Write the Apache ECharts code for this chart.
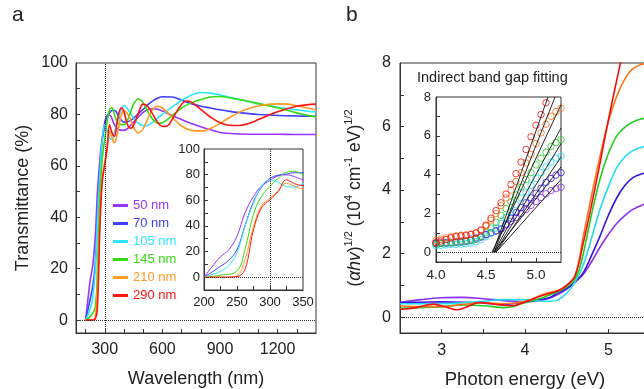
<!DOCTYPE html>
<html>
<head>
<meta charset="utf-8">
<script src="https://cdn.jsdelivr.net/npm/echarts@6.0.0/dist/echarts.min.js"></script>
<style>
  html, body { margin: 0; padding: 0; background: #fff; }
  #chart { width: 644px; height: 389px; }
</style>
</head>
<body>
<div id="chart"></div>
<script>
// ---- panel a: transmittance (wavelength nm, T %) ----
const names = ['50 nm', '70 nm', '105 nm', '145 nm', '210 nm', '290 nm']
const colorsA = ['#9933ff', '#3f3fff', '#2ee6ff', '#33dd11', '#ff9a22', '#ff1414']
const colorsB = ['#8c2ff0', '#3a14e0', '#22dcee', '#22cc22', '#ff7418', '#f01010']

const t50 = [[200, 0], [212, 8], [225, 16], [237, 21], [250, 32], [262, 50], [275, 63], [287, 71], [300, 75.5], [312, 79], [325, 79.8], [337, 78.5], [350, 76], [375, 74], [400, 73.8], [425, 75], [450, 77], [475, 79], [500, 80.8], [525, 81.8], [550, 82.2], [575, 82], [600, 81.3], [650, 79.6], [700, 78], [750, 76.5], [800, 75.2], [850, 74], [900, 73], [950, 72.6], [1000, 72.4], [1100, 72.3], [1200, 72.3], [1300, 72.2], [1400, 72.2]]
const t70 = [[200, 0], [212, 4], [225, 8.5], [237, 13], [250, 21.5], [262, 40], [275, 59], [287, 70], [300, 77], [312, 79.5], [325, 80.5], [337, 81.5], [350, 81.5], [375, 79], [400, 77], [425, 77.3], [450, 78.5], [475, 80.3], [500, 82], [525, 83.8], [550, 85.3], [575, 86.3], [600, 86.9], [650, 86.8], [700, 85.5], [750, 84.2], [800, 83.2], [850, 82.5], [900, 81.8], [950, 81.2], [1000, 80.7], [1050, 80.3], [1100, 80], [1200, 79.6], [1300, 79.4], [1400, 79.3]]
const t105 = [[200, 0], [212, 2], [225, 4.7], [237, 8.6], [250, 19], [262, 39.7], [275, 57.8], [287, 70.7], [300, 76], [312, 74], [325, 70.7], [337, 70.3], [350, 73], [375, 79.5], [400, 83.5], [425, 81.5], [450, 78.5], [475, 76.5], [500, 75.6], [525, 75.8], [550, 77], [575, 78.5], [600, 80], [650, 82.8], [700, 85.5], [750, 87.5], [800, 88.5], [850, 88.3], [900, 87.5], [950, 86.7], [1000, 85.8], [1050, 85], [1100, 84.2], [1150, 83.5], [1200, 82.8], [1250, 82.3], [1300, 81.8], [1350, 81.3], [1400, 81]]
const t145 = [[200, 0], [225, 1.5], [250, 5], [262, 21.5], [275, 49], [287, 63], [300, 70.7], [312, 77], [325, 81.9], [337, 82.6], [350, 80], [362, 77.5], [375, 76.3], [400, 76], [425, 79], [450, 84], [475, 86], [500, 84.5], [525, 81], [550, 78], [575, 76.6], [600, 76.8], [650, 79.5], [700, 82.5], [750, 84.5], [800, 85.8], [850, 86.8], [900, 87], [950, 86.5], [1000, 85.8], [1050, 85], [1100, 84.2], [1150, 83.4], [1200, 82.6], [1250, 81.6], [1300, 80.6], [1350, 79.8], [1400, 79]]
const t210 = [[200, 0], [237, 0], [250, 1], [262, 13.7], [275, 39.7], [287, 55.5], [300, 61.7], [312, 67], [325, 73.3], [337, 71], [350, 69], [362, 71.5], [375, 76], [387, 80], [400, 81.5], [425, 79.5], [450, 75], [475, 72.8], [500, 74.5], [525, 78.5], [550, 82], [575, 83.2], [600, 82.5], [650, 79], [700, 75.5], [750, 73.8], [800, 73.5], [850, 74.5], [900, 76.5], [950, 78.8], [1000, 80.8], [1050, 82.3], [1100, 83.3], [1150, 83.9], [1200, 84.1], [1250, 84], [1300, 83.4], [1350, 82.6], [1400, 81.7]]
const t290 = [[200, 0], [225, 0], [250, 0.5], [262, 6], [275, 37], [287, 54], [300, 60.4], [312, 66.8], [325, 76], [337, 73], [350, 71.5], [362, 76], [375, 81], [387, 82.6], [400, 81], [412, 77.5], [425, 75], [437, 74.6], [450, 75.8], [475, 80.5], [500, 84], [525, 83], [550, 80], [575, 77], [600, 75.3], [625, 75.5], [650, 78], [700, 84], [725, 85.2], [750, 84.8], [800, 82], [850, 79], [900, 76.8], [950, 75.8], [1000, 75.7], [1050, 76.5], [1100, 78], [1150, 79.6], [1200, 81], [1250, 82.2], [1300, 83.2], [1350, 83.7], [1400, 84]]
const transData = [t50, t70, t105, t145, t210, t290]

// ---- panel b: (alpha h v)^1/2 vs photon energy ----
const b50 = [[2.5, 0.46], [2.75, 0.55], [3.0, 0.61], [3.25, 0.62], [3.5, 0.58], [3.75, 0.52], [4.0, 0.48], [4.2, 0.54], [4.3, 0.6], [4.4, 0.72], [4.5, 0.88], [4.6, 1.1], [4.7, 1.35], [4.8, 1.75], [4.9, 2.2], [5.0, 2.6], [5.1, 2.95], [5.2, 3.2], [5.3, 3.4], [5.43, 3.55], [5.5, 3.62]]
const b70 = [[2.5, 0.46], [2.75, 0.47], [3.0, 0.48], [3.25, 0.47], [3.5, 0.44], [3.75, 0.4], [4.0, 0.48], [4.2, 0.56], [4.3, 0.62], [4.4, 0.77], [4.5, 0.9], [4.6, 1.1], [4.7, 1.4], [4.8, 1.95], [4.9, 2.55], [5.0, 3.2], [5.1, 3.75], [5.2, 4.15], [5.3, 4.4], [5.43, 4.53], [5.5, 4.58]]
const b105 = [[2.5, 0.42], [2.75, 0.42], [3.0, 0.42], [3.25, 0.45], [3.5, 0.5], [3.75, 0.55], [4.0, 0.55], [4.2, 0.5], [4.3, 0.5], [4.4, 0.55], [4.5, 0.75], [4.6, 1.1], [4.7, 1.65], [4.8, 2.5], [4.9, 3.39], [5.0, 4.1], [5.1, 4.7], [5.2, 5.05], [5.3, 5.25], [5.43, 5.37], [5.5, 5.4]]
const b145 = [[2.5, 0.28], [2.75, 0.3], [3.0, 0.33], [3.25, 0.38], [3.5, 0.36], [3.75, 0.3], [4.0, 0.45], [4.2, 0.6], [4.3, 0.7], [4.4, 0.8], [4.5, 0.95], [4.6, 1.2], [4.65, 1.5], [4.7, 2.0], [4.8, 3.25], [4.9, 4.35], [5.0, 5.15], [5.1, 5.7], [5.2, 5.98], [5.3, 6.15], [5.43, 6.26], [5.5, 6.3]]
const b210 = [[2.5, 0.36], [2.75, 0.33], [3.0, 0.33], [3.25, 0.4], [3.5, 0.45], [3.75, 0.42], [4.0, 0.5], [4.2, 0.7], [4.3, 0.78], [4.4, 0.85], [4.5, 1.0], [4.6, 1.3], [4.7, 2.55], [4.8, 3.85], [4.9, 5.06], [5.0, 6.15], [5.1, 6.95], [5.2, 7.5], [5.3, 7.83], [5.43, 7.98], [5.5, 8.0]]
const b290 = [[2.5, 0.25], [2.7, 0.3], [2.9, 0.41], [3.05, 0.32], [3.18, 0.23], [3.3, 0.32], [3.46, 0.46], [3.7, 0.38], [3.85, 0.36], [4.0, 0.48], [4.2, 0.67], [4.4, 0.83], [4.5, 1.0], [4.6, 1.29], [4.7, 2.34], [4.8, 3.55], [4.9, 4.85], [5.0, 6.2], [5.1, 7.45], [5.2, 8.6], [5.3, 9.5]]
const absData = [b50, b70, b105, b145, b210, b290]

// inset b: fitted points
const fitE = [4.00, 4.05, 4.10, 4.15, 4.20, 4.25, 4.30, 4.35, 4.40, 4.45, 4.50, 4.55, 4.60, 4.65, 4.70, 4.75, 4.80, 4.85, 4.90, 4.95, 5.00, 5.05, 5.10, 5.15, 5.20, 5.25]
const f50 = [0.48, 0.49, 0.5, 0.52, 0.55, 0.58, 0.62, 0.68, 0.75, 0.83, 0.92, 1.0, 1.1, 1.2, 1.4, 1.6, 1.8, 2.0, 2.2, 2.42, 2.62, 2.82, 3.02, 3.18, 3.28, 3.35]
const f70 = [0.45, 0.46, 0.47, 0.48, 0.5, 0.52, 0.55, 0.6, 0.68, 0.78, 0.9, 1.0, 1.1, 1.2, 1.45, 1.75, 2.05, 2.3, 2.55, 2.8, 3.05, 3.3, 3.6, 3.8, 3.98, 4.1]
const f105 = [0.35, 0.36, 0.38, 0.4, 0.41, 0.42, 0.44, 0.48, 0.55, 0.65, 0.8, 1.0, 1.25, 1.5, 1.8, 2.1, 2.45, 2.8, 3.1, 3.45, 3.8, 4.1, 4.4, 4.65, 4.85, 4.95]
const f145 = [0.42, 0.45, 0.48, 0.5, 0.52, 0.55, 0.58, 0.63, 0.7, 0.82, 1.0, 1.25, 1.55, 1.9, 2.25, 2.6, 2.95, 3.35, 3.75, 4.1, 4.5, 4.85, 5.15, 5.45, 5.65, 5.8]
const f210 = [0.62, 0.68, 0.74, 0.8, 0.85, 0.88, 0.9, 0.93, 0.99, 1.12, 1.35, 1.65, 2.0, 2.4, 2.8, 3.2, 3.65, 4.1, 4.6, 5.05, 5.6, 6.15, 6.6, 7.0, 7.25, 7.42]
const f290 = [0.5, 0.58, 0.66, 0.74, 0.8, 0.84, 0.87, 0.92, 1.0, 1.15, 1.4, 1.75, 2.15, 2.55, 3.0, 3.5, 4.05, 4.65, 5.3, 5.95, 6.55, 7.1, 7.7, 8.2, 8.7, 9.1]
const fitData = [f50, f70, f105, f145, f210, f290]
const fitLines = [
  [[4.57, 0], [5.12, 8]],
  [[4.58, 0], [5.19, 8]],
  [[4.56, 0], [5.25, 7.6]],
  [[4.58, 0], [5.25, 6.4]],
  [[4.59, 0], [5.25, 5.6]],
  [[4.6, 0], [5.25, 4.9]],
  [[4.58, 0], [5.25, 4.4]],
  [[4.6, 0], [5.25, 3.75]]
]

// ticks & labels
const wlTicks = [200, 300, 400, 500, 600, 700, 800, 900, 1000, 1100, 1200, 1300]
const wlLabels = [300, 600, 900, 1200]
const tTicks = [0, 10, 20, 30, 40, 50, 60, 70, 80, 90]
const tLabels = [0, 20, 40, 60, 80, 100]
const insWlTicks = [225, 250, 275, 300, 325]
const insWlLabels = [200, 250, 300, 350]
const eTicks = [3, 3.5, 4, 4.5, 5]
const eLabels = [3, 4, 5]
const absTicks = [0, 1, 2, 3, 4, 5, 6, 7]
const absLabels = [0, 2, 4, 6, 8]
const insETicks = [4.25, 4.5, 4.75, 5.0]
const insELabels = [4.0, 4.5, 5.0]

const FONT = '"Liberation Sans", Arial, sans-serif'
const INK = '#222'

function axis(gridIndex, min, max, ticks, labels, fontSize, margin, extra) {
  return Object.assign({
    gridIndex: gridIndex,
    type: 'value',
    min: min,
    max: max,
    axisLine: { show: true, onZero: false, lineStyle: { color: '#333', width: 1 } },
    axisTick: { show: true, inside: true, length: 4, customValues: ticks, lineStyle: { color: '#333' } },
    axisLabel: { customValues: labels, fontSize: fontSize, margin: margin, color: INK, fontFamily: FONT, formatter: v => String(v) },
    splitLine: { show: false }
  }, extra || {})
}

const dotted = { type: 'dotted', color: '#333', width: 1 }
function guide(lines) {
  return { silent: true, symbol: ['none', 'none'], label: { show: false }, lineStyle: dotted, data: lines, animation: false }
}

const chart = echarts.init(document.getElementById('chart'))

const series = []
transData.forEach((d, i) => {
  series.push({
    name: names[i], type: 'line', xAxisIndex: 0, yAxisIndex: 0, data: d,
    symbol: 'none', smooth: 0.4, lineStyle: { width: 1.6, color: colorsA[i] }, itemStyle: { color: colorsA[i] },
    markLine: i === 0 ? guide([{ yAxis: 0 }, { xAxis: 300 }]) : undefined
  })
})
transData.forEach((d, i) => {
  series.push({
    name: names[i], type: 'line', xAxisIndex: 1, yAxisIndex: 1, data: d,
    symbol: 'none', smooth: 0.4, lineStyle: { width: 1, color: colorsA[i] }, itemStyle: { color: colorsA[i] },
    markLine: i === 0 ? guide([{ yAxis: 0 }, { xAxis: 300 }]) : undefined
  })
})
absData.forEach((d, i) => {
  series.push({
    name: 'b ' + names[i], type: 'line', xAxisIndex: 2, yAxisIndex: 2, data: d,
    symbol: 'none', smooth: 0.4, lineStyle: { width: 1.6, color: colorsB[i] },
    markLine: i === 0 ? guide([{ yAxis: 0 }]) : undefined
  })
})
fitData.forEach((d, i) => {
  series.push({
    name: 'fit ' + names[i], type: 'scatter', xAxisIndex: 3, yAxisIndex: 3,
    data: fitE.map((e, k) => [e, d[k]]),
    symbol: 'circle', symbolSize: 6.5,
    itemStyle: { color: 'rgba(255,255,255,0)', borderColor: colorsB[i], borderWidth: 1 },
    markLine: i === 0 ? guide([{ yAxis: 0 }]) : undefined
  })
})
fitLines.forEach((d, i) => {
  series.push({
    name: 'line ' + i, type: 'line', xAxisIndex: 3, yAxisIndex: 3, data: d,
    symbol: 'none', z: 5, lineStyle: { width: 0.9, color: '#111' }
  })
})

const option = {
  animation: false,
  textStyle: { fontFamily: FONT },
  title: [
    { text: 'a', left: 12, top: 5, padding: 0, textStyle: { fontSize: 21, fontWeight: 'normal', color: INK, fontFamily: FONT } },
    { text: 'b', left: 346, top: 5, padding: 0, textStyle: { fontSize: 21, fontWeight: 'normal', color: INK, fontFamily: FONT } },
    { text: 'Indirect band gap fitting', left: 417, top: 70, padding: 0, textStyle: { fontSize: 14.5, fontWeight: 'normal', color: INK, fontFamily: FONT } }
  ],
  legend: {
    orient: 'vertical', left: 113, top: 199, padding: 0,
    itemWidth: 15, itemHeight: 3, itemGap: 5, icon: 'rect', selectedMode: false,
    textStyle: { fontSize: 13, fontFamily: FONT },
    data: names.map((n, i) => ({ name: n, textStyle: { color: colorsA[i] } }))
  },
  grid: [
    { left: 76, top: 63, width: 240, height: 270, show: true, borderColor: '#333', borderWidth: 1, outerBoundsMode: 'none' },
    { left: 204, top: 149, width: 99, height: 141, show: true, borderColor: '#333', borderWidth: 1, backgroundColor: '#fff', outerBoundsMode: 'none' },
    { left: 400, top: 63, width: 250, height: 270, show: true, borderColor: '#333', borderWidth: 1, outerBoundsMode: 'none' },
    { left: 436, top: 97, width: 125, height: 165, show: true, borderColor: '#333', borderWidth: 1, backgroundColor: '#fff', outerBoundsMode: 'none' }
  ],
  xAxis: [
    axis(0, 150, 1400, wlTicks, wlLabels, 16, 9, {
      name: 'Wavelength (nm)', nameLocation: 'middle', nameGap: 37,
      nameTextStyle: { fontSize: 18, color: INK, fontFamily: FONT }
    }),
    axis(1, 200, 350, insWlTicks, insWlLabels, 13, 6),
    axis(2, 2.5, 5.5, eTicks, eLabels, 16, 10, {
      interval: 0.5,
      name: 'Photon energy (eV)', nameLocation: 'middle', nameGap: 37,
      nameTextStyle: { fontSize: 18.5, color: INK, fontFamily: FONT }
    }),
    axis(3, 4.0, 5.25, insETicks, insELabels, 13.5, 6)
  ],
  yAxis: [
    axis(0, -5, 100, tTicks, tLabels, 16, 8, {
      name: 'Transmittance (%)', nameLocation: 'middle', nameGap: 44,
      nameTextStyle: { fontSize: 18, color: INK, fontFamily: FONT }
    }),
    axis(1, -10, 100, tTicks, tLabels, 13, 4),
    axis(2, -0.5, 8, absTicks, absLabels, 16, 9, {
      name: '({i|αhv}){s|1/2} (10{s|4} cm{s|-1} eV){s|1/2}', nameLocation: 'middle', nameGap: 33,
      nameTextStyle: {
        fontSize: 17.5, lineHeight: 24, color: INK, fontFamily: FONT,
        rich: {
          i: { fontSize: 17.5, lineHeight: 24, fontStyle: 'italic', color: INK, fontFamily: FONT },
          s: { fontSize: 11, lineHeight: 12, verticalAlign: 'top', color: INK, fontFamily: FONT }
        }
      }
    }),
    axis(3, -0.5, 8, absTicks, absLabels, 13, 5)
  ],
  series: series
}

option.xAxis[3].axisLabel.formatter = v => Number(v).toFixed(1)
chart.setOption(option)
</script>
</body>
</html>
